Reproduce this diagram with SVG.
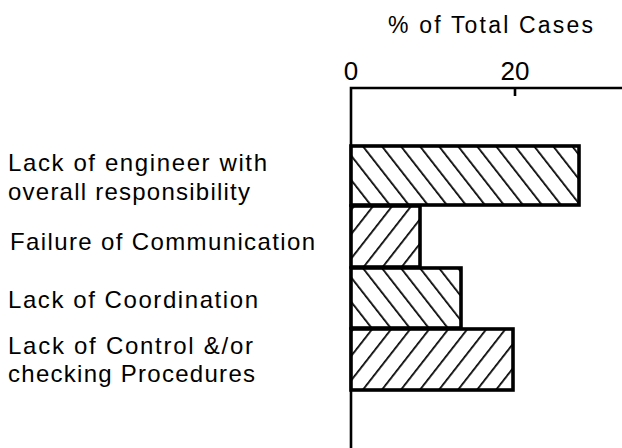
<svg xmlns="http://www.w3.org/2000/svg" width="622" height="448" viewBox="0 0 622 448">
<style>
.lbl{font-family:"Liberation Sans",Arial,sans-serif;font-size:24px;fill:#000}
.ax{stroke:#000;stroke-width:2.6;fill:none}
.bar{stroke:#000;stroke-width:3.6}
</style>
<defs>
<pattern id="hb" patternUnits="userSpaceOnUse" width="15" height="15" patternTransform="rotate(-38)">
<rect width="15" height="15" fill="#fff"/>
<line x1="0" y1="0" x2="0" y2="15" stroke="#000" stroke-width="3.5"/>
</pattern>
<pattern id="hf" patternUnits="userSpaceOnUse" width="15" height="15" patternTransform="rotate(38)">
<rect width="15" height="15" fill="#fff"/>
<line x1="0" y1="0" x2="0" y2="15" stroke="#000" stroke-width="3.5"/>
</pattern>
</defs>
<rect width="622" height="448" fill="#fff"/>
<g id="axis">
<text class="lbl" x="388" y="33" textLength="205" lengthAdjust="spacing" style="font-size:23px">% of Total Cases</text>
<text class="lbl" x="351" y="80" text-anchor="middle" style="font-size:26px">0</text>
<text class="lbl" x="515" y="80" text-anchor="middle" style="font-size:26px">20</text>
<path class="ax" d="M351,448 V88 H622 M515,88 V96"/>
</g>
<g id="bar1">
<rect class="bar" x="351" y="146" width="228" height="59" fill="url(#hb)"/>
<text class="lbl" x="8" y="171" textLength="259" lengthAdjust="spacing">Lack of engineer with</text>
<text class="lbl" x="8" y="200" textLength="242" lengthAdjust="spacing">overall responsibility</text>
</g>
<g id="bar2">
<rect class="bar" x="351" y="206" width="69" height="61" fill="url(#hf)"/>
<text class="lbl" x="10" y="250" textLength="305" lengthAdjust="spacing">Failure of Communication</text>
</g>
<g id="bar3">
<rect class="bar" x="351" y="268" width="110" height="60" fill="url(#hb)"/>
<text class="lbl" x="8" y="308" textLength="250" lengthAdjust="spacing">Lack of Coordination</text>
</g>
<g id="bar4">
<rect class="bar" x="351" y="329" width="162" height="61" fill="url(#hf)"/>
<text class="lbl" x="8" y="354" textLength="245" lengthAdjust="spacing">Lack of Control &amp;/or</text>
<text class="lbl" x="8" y="382" textLength="247" lengthAdjust="spacing">checking Procedures</text>
</g>
</svg>
